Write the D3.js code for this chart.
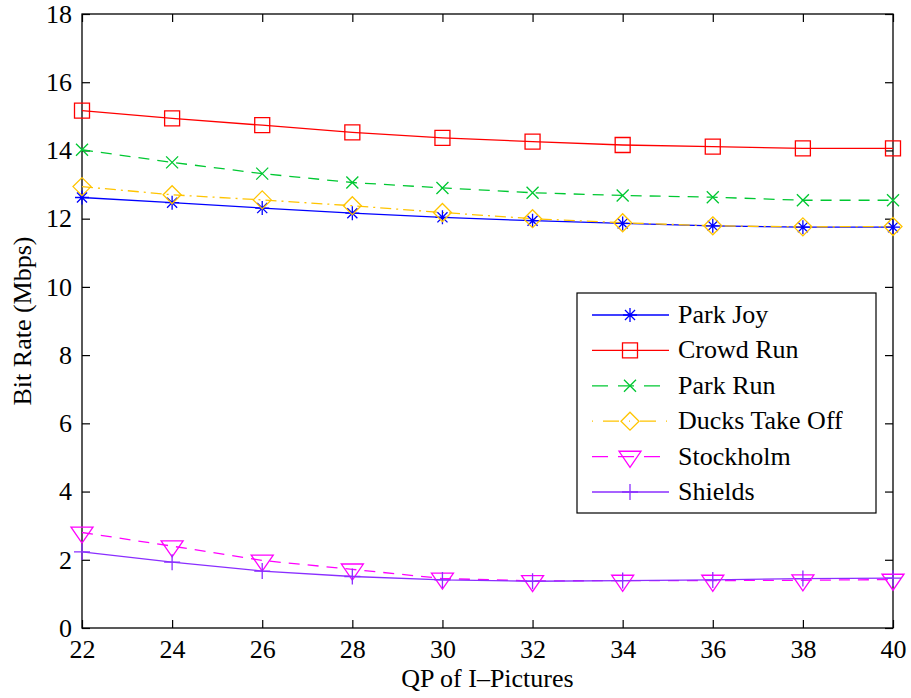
<!DOCTYPE html>
<html><head><meta charset="utf-8">
<script src="https://cdn.jsdelivr.net/npm/d3@7"></script>
<style>body{margin:0;background:#fff}svg{display:block}text{font-family:"Liberation Serif","Times New Roman",serif;fill:#000}</style>
</head><body>
<script>
const qp = [22,24,26,28,30,32,34,36,38,40];
const parkJoy      = [12.62,12.47,12.31,12.16,12.04,11.94,11.86,11.79,11.75,11.75];
const crowdRun     = [15.17,14.94,14.74,14.53,14.37,14.26,14.16,14.11,14.06,14.06];
const parkRun      = [14.02,13.65,13.32,13.06,12.90,12.76,12.68,12.63,12.54,12.54];
const ducksTakeOff = [12.94,12.70,12.55,12.38,12.18,12.00,11.88,11.79,11.76,11.77];
const stockholm    = [2.80,2.40,1.98,1.72,1.45,1.38,1.39,1.39,1.40,1.42];
const shields      = [2.23,1.93,1.67,1.51,1.41,1.37,1.39,1.41,1.45,1.46];
const seriesNames  = ["Park Joy","Crowd Run","Park Run","Ducks Take Off","Stockholm","Shields"];
const xTicks = [22,24,26,28,30,32,34,36,38,40];
const yTicks = [0,2,4,6,8,10,12,14,16,18];

const styles = [
  {data: parkJoy, color:"#0000ff", dash:null, marker:"asterisk"},
  {data: crowdRun, color:"#ff0000", dash:null, marker:"square"},
  {data: parkRun, color:"#00c832", dash:"11,8", marker:"x"},
  {data: ducksTakeOff, color:"#ffc400", dash:"11,5,2,5", marker:"diamond"},
  {data: stockholm, color:"#ff00ff", dash:"11,8", marker:"triangle"},
  {data: shields, color:"#8a2eff", dash:null, marker:"plus"}
];

const FONT='"Liberation Serif","Times New Roman",serif';
const W=911,H=698;
const L=82,R=893,T=14,B=628;
const svg=d3.select("body").append("svg").attr("width",W).attr("height",H);
const x=d3.scaleLinear().domain([22,40]).range([L,R]);
const y=d3.scaleLinear().domain([0,18]).range([B,T]);

function markerPath(type){
  switch(type){
    case "asterisk": {const r=7,d=r*0.72; return `M${-r},0H${r}M0,${-r}V${r}M${-d},${-d}L${d},${d}M${-d},${d}L${d},${-d}`;}
    case "square": {const s=7.5; return `M${-s},${-s}H${s}V${s}H${-s}Z`;}
    case "x": {const d=6; return `M${-d},${-d}L${d},${d}M${-d},${d}L${d},${-d}`;}
    case "diamond": {const s=9; return `M0,${-s}L${s},0L0,${s}L${-s},0Z`;}
    case "triangle": {const w=11,h=16; return `M${-w},${-h/3}H${w}L0,${2*h/3}Z`;}
    case "plus": {const r=8; return `M${-r},0H${r}M0,${-r}V${r}`;}
  }
}

const g=svg.append("g");
g.append("rect").attr("x",L).attr("y",T).attr("width",R-L).attr("height",B-T)
 .attr("fill","none").attr("stroke","#000").attr("stroke-width",1.3);

const xAxis=d3.axisBottom(x).tickValues(xTicks).tickSize(-8).tickPadding(14).tickFormat(d3.format("d"));
const xa=g.append("g").attr("transform",`translate(0,${B})`).call(xAxis);
const xt=g.append("g").attr("transform",`translate(0,${T})`).call(d3.axisTop(x).tickValues(xTicks).tickSize(-8).tickFormat(""));
const yAxis=d3.axisLeft(y).tickValues(yTicks).tickSize(-8).tickPadding(10).tickFormat(d3.format("d"));
const ya=g.append("g").attr("transform",`translate(${L},0)`).call(yAxis);
const yr=g.append("g").attr("transform",`translate(${R},0)`).call(d3.axisRight(y).tickValues(yTicks).tickSize(-8).tickFormat(""));
[xa,xt,ya,yr].forEach(a=>{a.attr("font-family",FONT).attr("font-size",26);
  a.select(".domain").remove();a.selectAll("line").attr("stroke","#000").attr("stroke-width",1.2);
  a.selectAll("text").attr("font-family",FONT).style("font-family",FONT).style("font-size","26px").attr("fill","#000");});
xa.selectAll("text").attr("dy","0.71em").attr("y",12);

const line=d3.line().x((d,i)=>x(qp[i])).y(d=>y(d));
const plot=svg.append("g");
styles.forEach(s=>{
  plot.append("path").datum(s.data).attr("d",line).attr("fill","none")
    .attr("stroke",s.color).attr("stroke-width",1.3).attr("stroke-dasharray",s.dash);
});
styles.forEach(s=>{
  plot.append("g").selectAll("path").data(s.data).join("path")
    .attr("transform",(d,i)=>`translate(${x(qp[i])},${y(d)})`)
    .attr("d",markerPath(s.marker)).attr("fill","none").attr("stroke",s.color).attr("stroke-width",1.3);
});

svg.append("text").attr("x",(L+R)/2).attr("y",687).attr("text-anchor","middle").style("font-size","26px").text("QP of I\u2013Pictures");
svg.append("text").attr("transform",`translate(31,${(T+B)/2}) rotate(-90)`).attr("text-anchor","middle").style("font-size","26px").text("Bit Rate (Mbps)");

const lg=svg.append("g");
lg.append("rect").attr("x",577).attr("y",293).attr("width",299).attr("height",220).attr("fill","#fff").attr("stroke","#000").attr("stroke-width",1.2);
const rowY=d3.scaleLinear().domain([0,5]).range([315,492]);
styles.forEach((s,i)=>{
  const yy=rowY(i);
  lg.append("line").attr("x1",592).attr("x2",669).attr("y1",yy).attr("y2",yy)
    .attr("stroke",s.color).attr("stroke-width",1.3).attr("stroke-dasharray",s.dash? (s.marker==="diamond"?"1,10,16,10":"16,10"):null);
  lg.append("path").attr("transform",`translate(630,${yy})`).attr("d",markerPath(s.marker))
    .attr("fill","none").attr("stroke",s.color).attr("stroke-width",1.3);
  lg.append("text").attr("x",678).attr("y",yy+8).style("font-size","26px").text(seriesNames[i]);
});
</script>
</body></html>
